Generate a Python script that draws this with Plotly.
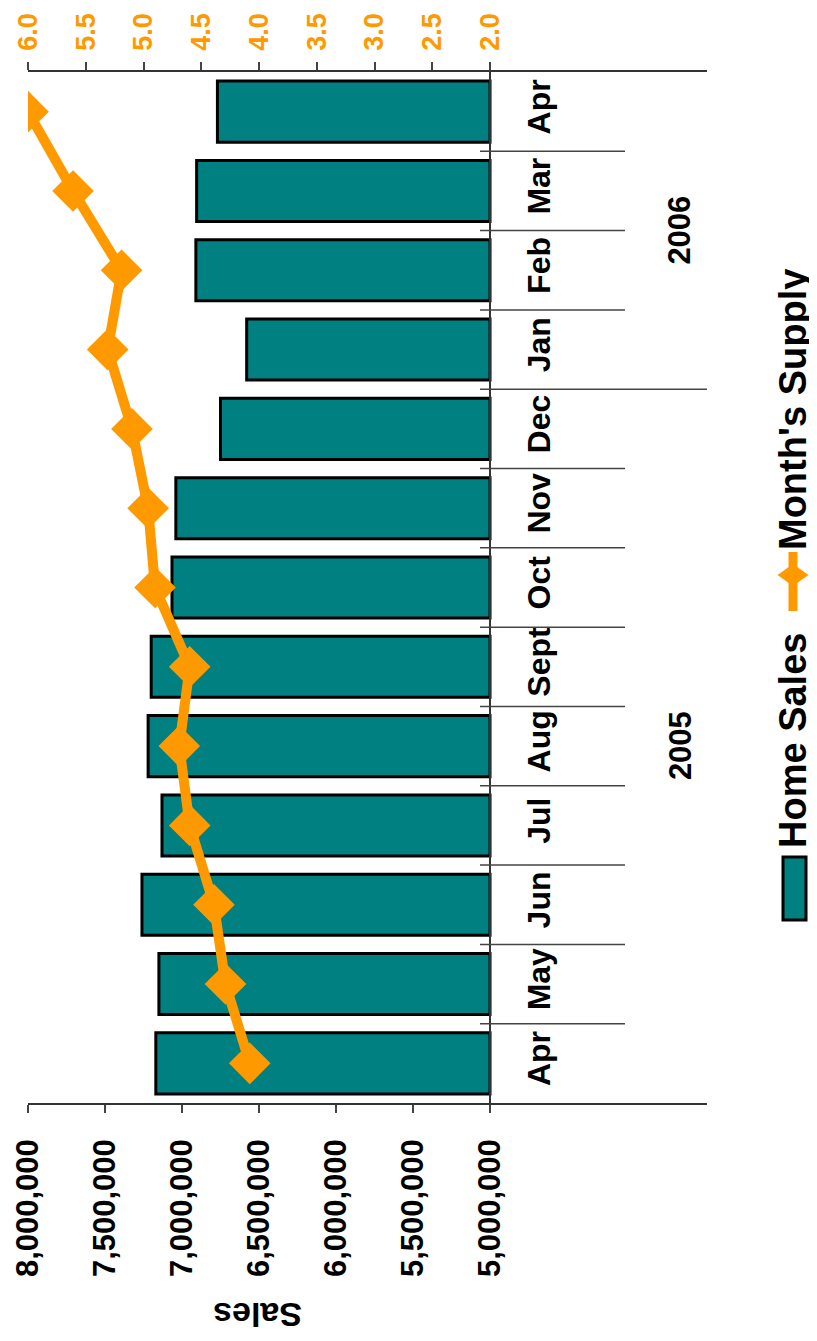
import plotly.graph_objects as go

# ---------------- data ----------------
months = ["Apr", "May", "Jun", "Jul", "Aug", "Sept", "Oct", "Nov", "Dec",
          "Jan", "Feb", "Mar", "Apr"]
years = ["2005", "2006"]
year_first_idx = [0, 9]
year_last_idx = [8, 12]
home_sales = [7170000, 7150000, 7260000, 7130000, 7220000, 7200000, 7065000,
              7040000, 6750000, 6580000, 6910000, 6905000, 6770000]
months_supply = [4.08, 4.29, 4.39, 4.60, 4.69, 4.60, 4.90, 4.96, 5.10,
                 5.31, 5.19, 5.61, 6.00]
sales_ticks = [5000000, 5500000, 6000000, 6500000, 7000000, 7500000, 8000000]
supply_ticks = [2.0, 2.5, 3.0, 3.5, 4.0, 4.5, 5.0, 5.5, 6.0]

# ---------------- geometry (screen pixels) ----------------
PAGE_W, PAGE_H = 817, 1341
BODY = 8                      # default page margin around the plot div
W, H = PAGE_W - BODY, PAGE_H - BODY
L, R, T, B = 28, 707, 72, 1103
AX = 490  # pixel where the category axis line sits

def px_x(px):
    return (px - L) / (R - L)

def px_y(py):
    return (B - py) / (B - T)

idx = list(range(len(months)))
s_min, s_max = sales_ticks[0], sales_ticks[-1]
s_per_px = (s_max - s_min) / (AX - L)
sales_range = [s_max, s_max - (R - L) * s_per_px]
m_min, m_max = supply_ticks[0], supply_ticks[-1]
m_per_px = (m_max - m_min) / (AX - L)
supply_range = [m_max, m_max - (R - L) * m_per_px]

TEAL = "#008080"
ORANGE = "#FF9900"
TXT = "Liberation Sans, Arial, sans-serif"

fig = go.Figure()
fig.add_trace(go.Bar(
    y=idx, x=[v - s_min for v in home_sales], base=s_min, orientation="h",
    width=0.77, name="Home Sales",
    marker=dict(color=TEAL, line=dict(color="black", width=3)),
    xaxis="x", yaxis="y", showlegend=False))
fig.add_trace(go.Scatter(
    x=months_supply, y=idx, mode="lines+markers", name="Month's Supply",
    line=dict(color=ORANGE, width=10),
    marker=dict(symbol="diamond", size=32, color=ORANGE),
    xaxis="x2", yaxis="y", showlegend=False))

axline = dict(showline=True, linecolor="#333", linewidth=1.5, showgrid=False,
              zeroline=False, automargin=False)
plain = dict(showline=False, showgrid=False, zeroline=False, automargin=False)
fig.update_layout(
    width=W, height=H,
    margin=dict(l=L - BODY, r=PAGE_W - R, t=T - BODY, b=PAGE_H - B, pad=0,
                autoexpand=False),
    paper_bgcolor="white", plot_bgcolor="white",
    showlegend=False,
    xaxis=dict(domain=[0, 1], range=sales_range, tickvals=sales_ticks,
               ticktext=[f"{v:,}" for v in sales_ticks], tickangle=-90,
               ticks="outside", ticklen=8, tickcolor="#444", tickwidth=1.5,
               ticklabelstandoff=14, anchor="y", side="bottom",
               tickfont=dict(family=TXT, size=31, color="black", weight="bold"),
               **axline),
    xaxis3=dict(overlaying="x", range=sales_range, tickvals=sales_ticks,
                ticks="inside", ticklen=8, tickcolor="#444", tickwidth=1.5,
                showticklabels=False, anchor="y", side="bottom", **plain),
    xaxis2=dict(overlaying="x", range=supply_range, tickvals=supply_ticks,
                ticktext=[f"{v:.1f}" for v in supply_ticks], tickangle=-90,
                ticks="outside", ticklen=8, tickcolor="#444", tickwidth=1.5,
                ticklabelstandoff=6, anchor="y", side="top",
                tickfont=dict(family=TXT, size=27, color=ORANGE, weight="bold"),
                **axline),
    xaxis4=dict(overlaying="x", range=supply_range, tickvals=supply_ticks,
                ticks="inside", ticklen=8, tickcolor="#444", tickwidth=1.5,
                showticklabels=False, anchor="y", side="top", **plain),
    yaxis=dict(domain=[0, 1], range=[-0.5, len(months) - 0.5], tickvals=idx,
               ticktext=months, anchor="free", position=px_x(AX),
               side="right", ticks="", tickangle=-90, ticklabelstandoff=21,
               tickfont=dict(family=TXT, size=32, color="black", weight="bold"),
               **axline),
)

shapes = []
# category separators
for k in range(len(months) - 1):
    yb = k + 0.5
    is_year_break = k in year_last_idx[:-1]
    x_end = 1.0 if is_year_break else px_x(625)
    shapes.append(dict(type="line", xref="paper", yref="y",
                       x0=px_x(480), x1=x_end, y0=yb, y1=yb,
                       line=dict(color="#444", width=1.5)))
# legend symbols
shapes.append(dict(type="rect", xref="paper", yref="paper",
                   x0=px_x(783), x1=px_x(806), y0=px_y(920), y1=px_y(857),
                   fillcolor=TEAL, line=dict(color="black", width=3)))
shapes.append(dict(type="line", xref="paper", yref="paper",
                   x0=px_x(793), x1=px_x(793), y0=px_y(552), y1=px_y(611),
                   line=dict(color=ORANGE, width=9)))
cx, cy, hw, hh = 793, 575, 15.5, 11
path = (f"M {px_x(cx - hw)},{px_y(cy)} L {px_x(cx)},{px_y(cy - hh)} "
        f"L {px_x(cx + hw)},{px_y(cy)} L {px_x(cx)},{px_y(cy + hh)} Z")
shapes.append(dict(type="path", xref="paper", yref="paper", path=path,
                   fillcolor=ORANGE, line=dict(color=ORANGE, width=0)))
fig.update_layout(shapes=shapes)

ann = []
for yr, a, b in zip(years, year_first_idx, year_last_idx):
    ann.append(dict(text=yr, x=px_x(680), xref="paper", y=(a + b) / 2, yref="y",
                    xanchor="center", yanchor="middle",
                    textangle=-90, showarrow=False,
                    font=dict(family=TXT, size=31, color="black", weight="bold")))
ann.append(dict(text="Sales", x=px_x(258), xref="paper", y=px_y(1315),
                yref="paper", xanchor="center", yanchor="middle",
                textangle=180, showarrow=False,
                font=dict(family=TXT, size=34, color="black", weight="bold")))
ann.append(dict(text="Home Sales", x=px_x(793), xref="paper", y=px_y(741),
                yref="paper", xanchor="center", yanchor="middle",
                textangle=-90, showarrow=False,
                font=dict(family=TXT, size=38, color="black", weight="bold")))
ann.append(dict(text="Month's Supply", x=px_x(793), xref="paper", y=px_y(410),
                yref="paper", xanchor="center", yanchor="middle",
                textangle=-90, showarrow=False,
                font=dict(family=TXT, size=38, color="black", weight="bold")))
fig.update_layout(annotations=ann)

fig.write_html("out.html")
